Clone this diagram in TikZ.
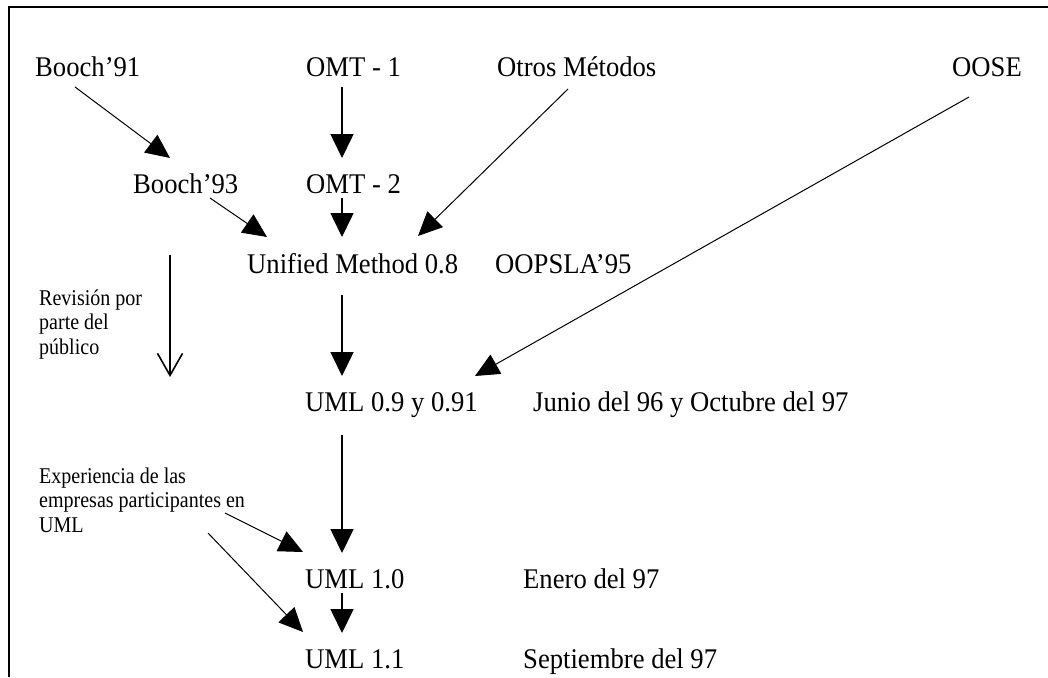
\documentclass[tikz,border=0pt]{standalone}
\usepackage{fontspec}
\setmainfont{Liberation Serif}[FakeStretch=0.89]
\newfontfamily\widefam{Liberation Serif}[FakeStretch=0.935]
\usetikzlibrary{arrows.meta}

\newcommand{\bigtxt}{\widefam\fontsize{28.5}{30}\selectfont}
\newcommand{\smalltxt}{\fontsize{22.5}{24.5}\selectfont}

\tikzset{
  lbl/.style={anchor=base west, inner sep=0pt, font=\bigtxt},
  note/.style={anchor=base west, inner sep=0pt, font=\smalltxt},
  flow/.style={line width=1pt, -{Triangle[length=24pt,width=22pt]}},
  mainflow/.style={line width=1.6pt, -{Triangle[length=24pt,width=23pt]}},
  openflow/.style={line width=1.3pt, -{Straight Barb[length=22pt,width=25pt,line width=1.6pt]}},
  frame/.style={line width=2pt}
}

\begin{document}
\begin{tikzpicture}[x=1pt,y=-1pt]
\useasboundingbox (0,0) rectangle (1048,677);
\fill[white] (0,0) rectangle (1048,677);

% frame (top and left edges)
\draw[frame] (9,677) -- (9,7) -- (1048,7);

% methods and versions
\node[lbl] (b91)   at (35,76)   {Booch’91};
\node[lbl] (omt1)  at (306,76)  {OMT - 1};
\node[lbl] (otros) at (497,76)  {Otros Métodos};
\node[lbl] (oose)  at (952,76)  {OOSE};
\node[lbl] (b93)   at (133,193) {Booch’93};
\node[lbl] (omt2)  at (306,193) {OMT - 2};
\node[lbl] (um)    at (247,273) {Unified Method 0.8};
\node[lbl] (oopsla) at (495,273) {OOPSLA’95};
\node[lbl] (uml09) at (305,411) {UML 0.9 y 0.91};
\node[lbl] (junio) at (533,411) {Junio del 96 y Octubre del 97};
\node[lbl] (uml10) at (305,588) {UML 1.0};
\node[lbl] (enero) at (523,588) {Enero del 97};
\node[lbl] (uml11) at (305,668) {UML 1.1};
\node[lbl] (sept)  at (523,668) {Septiembre del 97};

% side notes
\node[note] (rev) at (39,305)
  {\begin{tabular}[t]{@{}l@{}}Revisión por\\parte del\\público\end{tabular}};
\node[note] (exp) at (39,483)
  {\begin{tabular}[t]{@{}l@{}}Experiencia de las\\empresas participantes en\\UML\end{tabular}};

% connector end points
\coordinate (a1s) at (75,87);   \coordinate (a1e) at (170,158);
\coordinate (a2s) at (342,87);  \coordinate (a2e) at (342,158);
\coordinate (a3s) at (210,198); \coordinate (a3e) at (267,237);
\coordinate (a4s) at (342,198); \coordinate (a4e) at (342,237);
\coordinate (a5s) at (568,89);  \coordinate (a5e) at (418,236);
\coordinate (a6s) at (969,97);  \coordinate (a6e) at (475,376);
\coordinate (a7s) at (342,295); \coordinate (a7e) at (342,376);
\coordinate (a8s) at (170,255); \coordinate (a8e) at (170,377);
\coordinate (a9s) at (342,435); \coordinate (a9e) at (342,553);
\coordinate (a10s) at (225,513); \coordinate (a10e) at (303,552);
\coordinate (a11s) at (208,533); \coordinate (a11e) at (303,632);
\coordinate (a12s) at (342,593); \coordinate (a12e) at (342,633);

% connectors
\draw[flow]     (a1s) -- (a1e);
\draw[mainflow] (a2s) -- (a2e);
\draw[flow]     (a3s) -- (a3e);
\draw[mainflow] (a4s) -- (a4e);
\draw[flow]     (a5s) -- (a5e);
\draw[flow]     (a6s) -- (a6e);
\draw[mainflow] (a7s) -- (a7e);
\draw[openflow] (a8s) -- (a8e);
\draw[mainflow] (a9s) -- (a9e);
\draw[flow]     (a10s) -- (a10e);
\draw[flow]     (a11s) -- (a11e);
\draw[mainflow] (a12s) -- (a12e);
\end{tikzpicture}
\end{document}
